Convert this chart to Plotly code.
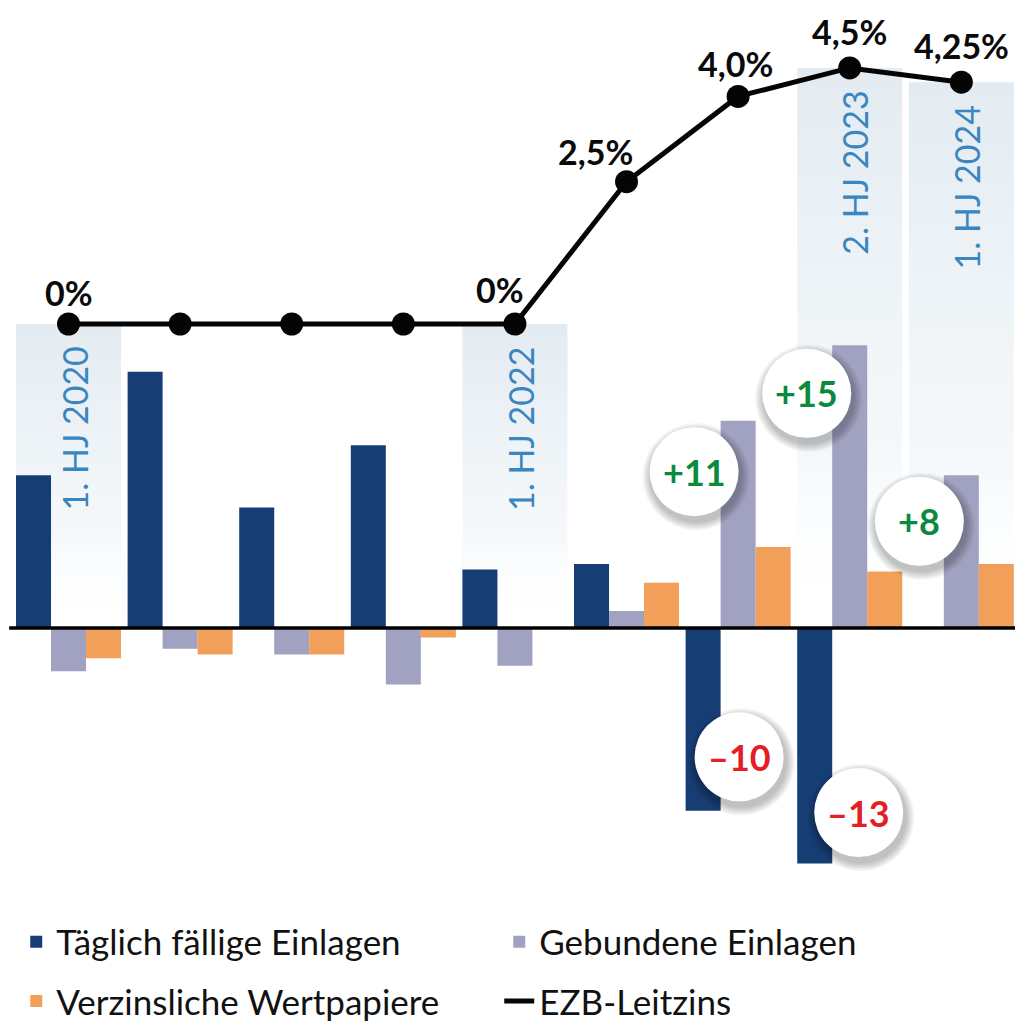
import plotly.graph_objects as go

# ---------------- data ----------------
categories = ["1. HJ 2020", "2. HJ 2020", "1. HJ 2021", "2. HJ 2021", "1. HJ 2022",
              "2. HJ 2022", "1. HJ 2023", "2. HJ 2023", "1. HJ 2024"]
taeglich = [8.1, 13.6, 6.4, 9.7, 3.1, 3.4, -9.7, -12.5, 0.0]
gebunden = [-2.3, -1.1, -1.4, -3.0, -2.0, 0.9, 11.0, 15.0, 8.1]
wertpapiere = [-1.6, -1.4, -1.4, -0.5, 0.0, 2.4, 4.3, 3.0, 3.4]
leitzins = [0, 0, 0, 0, 0, 2.5, 4.0, 4.5, 4.25]
leitzins_labels = ["0%", "", "", "", "0%", "2,5%", "4,0%", "4,5%", "4,25%"]
highlighted = ["1. HJ 2020", "1. HJ 2022", "2. HJ 2023", "1. HJ 2024"]
callout_series = ["gebunden", "gebunden", "gebunden", "taeglich", "taeglich"]
callout_period = ["1. HJ 2023", "2. HJ 2023", "1. HJ 2024", "1. HJ 2023", "2. HJ 2023"]
callout_labels = ["+11", "+15", "+8", "–10", "–13"]

# ---------------- styles ----------------
C_DARK = "#173e74"
C_GRAY = "#a1a2c1"
C_ORANGE = "#f29f5a"
C_BLUE_TXT = "#3a86c0"
C_GREEN = "#0b8a3d"
C_RED = "#e31e26"
FONT = "Lato"

BARGAP = 0.059
BAR_W = (1 - BARGAP) / 3
X_RANGE = [-0.614, 8.481]
BAR_RANGE = [-13.9, 33.32]
RATE_RANGE = [-9.947, 5.694]

label_shift = [(0, 32), None, None, None, (-15, 35), (-31, 30), (-3, 33), (0, 36), (0, 37)]
callout_offsets = [(-44, -51), (-43, -48), (-42, -46), (36, 54), (44, 51)]
CIRCLE_R = 44.5

x_idx = list(range(len(categories)))
series = {"taeglich": (taeglich, -1), "gebunden": (gebunden, 0), "wertpapiere": (wertpapiere, 1)}

fig = go.Figure()

# baseline of bars expressed on the rate/shade axis
bar_zero_in_rate = RATE_RANGE[0] + (0 - BAR_RANGE[0]) / (BAR_RANGE[1] - BAR_RANGE[0]) * (RATE_RANGE[1] - RATE_RANGE[0])
half = (1 - BARGAP) / 2
for name in highlighted:
    i = categories.index(name)
    top = leitzins[i]
    fig.add_trace(go.Scatter(
        x=[i - half, i + half, i + half, i - half, i - half],
        y=[bar_zero_in_rate, bar_zero_in_rate, top, top, bar_zero_in_rate],
        mode="lines", line=dict(width=0), fill="toself",
        fillgradient=dict(type="vertical",
                          colorscale=[[0, "rgba(255,255,255,0)"], [0.3, "rgba(243,247,250,0.8)"], [1, "#e3ebf1"]]),
        showlegend=False, hoverinfo="skip", yaxis="y"))

fig.add_trace(go.Bar(x=x_idx, y=taeglich, name="Täglich fällige Einlagen", marker_color=C_DARK,
                     yaxis="y2", legend="legend", marker_line_width=0))
fig.add_trace(go.Bar(x=x_idx, y=gebunden, name="Gebundene Einlagen", marker_color=C_GRAY,
                     yaxis="y2", legend="legend", marker_line_width=0))
fig.add_trace(go.Bar(x=x_idx, y=wertpapiere, name="Verzinsliche Wertpapiere", marker_color=C_ORANGE,
                     yaxis="y2", legend="legend2", marker_line_width=0))

fig.add_trace(go.Scatter(x=x_idx, y=leitzins, mode="lines", name="EZB-Leitzins",
                         line=dict(color="#050505", width=5), yaxis="y3", legend="legend2"))
fig.add_trace(go.Scatter(x=x_idx, y=leitzins, mode="markers", showlegend=False,
                         marker=dict(color="#050505", size=23), yaxis="y3"))

annotations = []
for i, lab in enumerate(leitzins_labels):
    if lab:
        dx, dy = label_shift[i]
        annotations.append(dict(x=i, y=leitzins[i], xref="x", yref="y3", text=lab, showarrow=False,
                                xshift=dx, yshift=dy,
                                font=dict(family=FONT, size=34, color="#0a0a0a", weight="bold")))
for name in highlighted:
    i = categories.index(name)
    annotations.append(dict(x=i, y=leitzins[i], xref="x", yref="y3", text=name, showarrow=False,
                            textangle=-90, xshift=5, yshift=-105,
                            font=dict(family=FONT, size=34, color=C_BLUE_TXT)))

shapes = [dict(type="line", xref="paper", yref="y2", x0=0.009, x1=1, y0=0, y1=0,
               line=dict(color="#000", width=3.5), layer="above")]

for k, (sname, period, lab) in enumerate(zip(callout_series, callout_period, callout_labels)):
    vals, off = series[sname]
    i = categories.index(period)
    bx = i + off * BAR_W
    by = vals[i]
    dx, dy = callout_offsets[k]
    for s in range(6, 0, -1):
        rr = CIRCLE_R + s * 1.5
        shapes.append(dict(type="circle", xref="x", yref="y2", xsizemode="pixel", ysizemode="pixel",
                           xanchor=bx, yanchor=by, x0=dx + 2 - rr, x1=dx + 2 + rr,
                           y0=dy - 5 - rr, y1=dy - 5 + rr,
                           fillcolor="rgba(0,0,0,0.045)", line=dict(width=0), layer="above"))
    shapes.append(dict(type="circle", xref="x", yref="y2", xsizemode="pixel", ysizemode="pixel",
                       xanchor=bx, yanchor=by, x0=dx - CIRCLE_R, x1=dx + CIRCLE_R,
                       y0=dy - CIRCLE_R, y1=dy + CIRCLE_R,
                       fillcolor="white", line=dict(width=0), layer="above"))
    annotations.append(dict(x=bx, y=by, xref="x", yref="y2", text=lab, showarrow=False,
                            xshift=dx, yshift=dy,
                            font=dict(family=FONT, size=36, weight="bold",
                                      color=C_GREEN if lab.startswith("+") else C_RED)))

axis_off = dict(visible=False, showgrid=False, zeroline=False, fixedrange=True)
legend_common = dict(orientation="h", xanchor="left", yanchor="top", yref="container",
                     entrywidth=438, entrywidthmode="pixels", bgcolor="rgba(0,0,0,0)",
                     traceorder="normal", font=dict(family=FONT, size=35, color="#111"),
                     itemclick=False)

fig.update_layout(
    width=1015, height=1023,
    margin=dict(l=0, r=0, t=0, b=133, autoexpand=False),
    paper_bgcolor="white", plot_bgcolor="white",
    barmode="group", bargap=BARGAP, bargroupgap=0,
    xaxis=dict(range=X_RANGE, **axis_off),
    yaxis=dict(range=RATE_RANGE, **axis_off),
    yaxis2=dict(range=BAR_RANGE, overlaying="y", **axis_off),
    yaxis3=dict(range=RATE_RANGE, overlaying="y", **axis_off),
    legend=dict(x=0.016, y=0.108, **legend_common),
    legend2=dict(x=0.016, y=0.050, **legend_common),
    annotations=annotations,
    shapes=shapes,
    showlegend=True,
)

fig.write_html("out.html", config={"displayModeBar": False},
               post_script="document.body.style.margin='0';document.body.style.overflow='hidden';")
